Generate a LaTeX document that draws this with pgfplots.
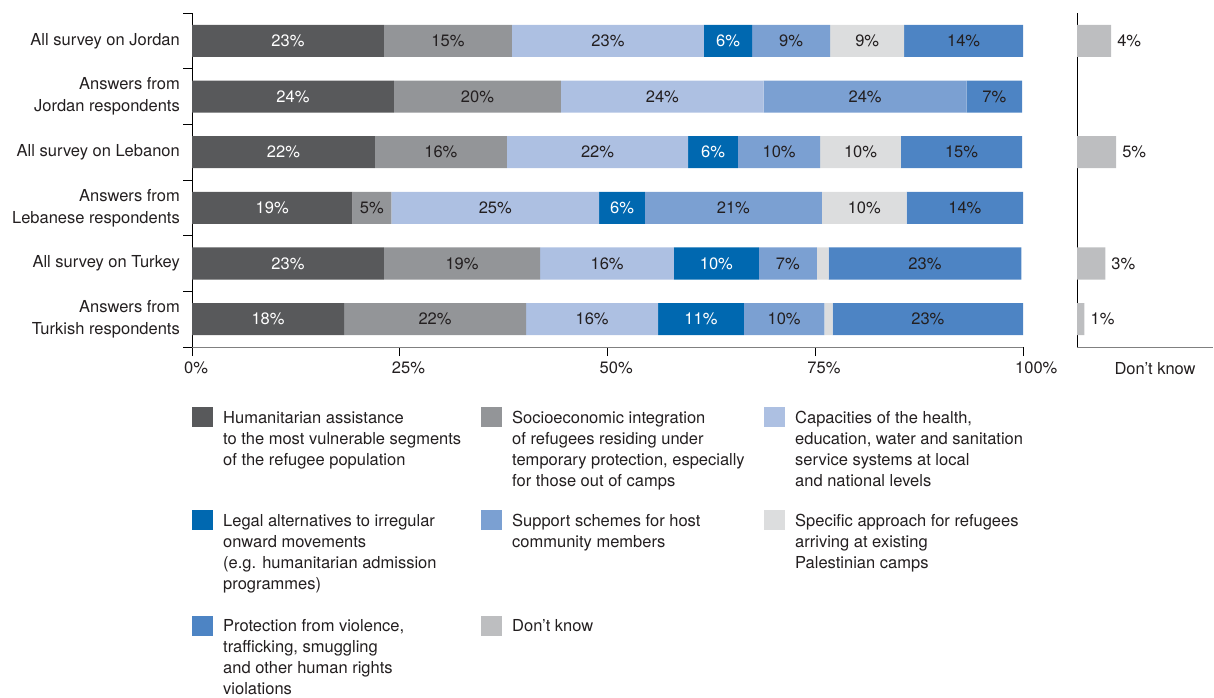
\documentclass[border=0pt]{standalone}
\usepackage{pgfplots}
\pgfplotsset{compat=1.18}
\usepackage{fontspec}
\setmainfont{TeX Gyre Heros}
\definecolor{c1}{HTML}{58595B}
\definecolor{c2}{HTML}{939598}
\definecolor{c3}{HTML}{ADC0E2}
\definecolor{c4}{HTML}{0068B0}
\definecolor{c5}{HTML}{7BA0D2}
\definecolor{c6}{HTML}{DCDDDE}
\definecolor{c7}{HTML}{4D84C4}
\definecolor{c8}{HTML}{BDBEC0}
\definecolor{txt}{HTML}{231F20}
\begin{document}
\begin{tikzpicture}[font=\fontsize{16.5}{21}\selectfont, text=txt]
\useasboundingbox (0,0) rectangle (1214pt,-697pt);
\begin{axis}[
  at={(192pt,-13pt)}, anchor=north west,
  scale only axis, width=831pt, height=334pt,
  xbar stacked, bar width=0.575,
  xmin=0, xmax=100, ymin=-0.5, ymax=5.5,
  axis x line*=bottom, axis y line*=left,
  x axis line style={draw=gray, line width=1pt, -},
  y axis line style={draw=black, line width=1pt, -},
  ytick={-0.5,0.5,...,5.5},
  y tick label as interval,
  yticklabels={{Answers from\\Turkish respondents},{All survey on Turkey},{Answers from\\Lebanese respondents},{All survey on Lebanon},{Answers from\\Jordan respondents},{All survey on Jordan}},
  yticklabel style={align=right, font=\fontsize{16.5}{22}\selectfont, inner sep=0pt, xshift=-3pt},
  xtick={0,25,50,75,100},
  xticklabels={0\%,25\%,50\%,75\%,100\%},
  xticklabel style={anchor=north west, xshift=-8pt, inner sep=0pt, yshift=-6pt},
  tick align=outside, major tick length=9pt,
  tick style={black, line width=0.8pt},
  point meta=explicit symbolic,
  nodes near coords,
  every node near coord/.append style={anchor=center, inner sep=0pt, font=\fontsize{16.5}{21}\selectfont, text=txt},
  clip=false,
]
\addplot[fill=c1, draw=none, every node near coord/.append style={text=white}] coordinates {(18.3,0) [18\%] (23.1,1) [23\%] (19.3,2) [19\%] (22.0,3) [22\%] (24.3,4) [24\%] (23.1,5) [23\%]};
\addplot[fill=c2, draw=none] coordinates {(21.9,0) [22\%] (18.8,1) [19\%] (4.7,2) [5\%] (15.9,3) [16\%] (20.1,4) [20\%] (15.4,5) [15\%]};
\addplot[fill=c3, draw=none] coordinates {(15.9,0) [16\%] (16.1,1) [16\%] (25.0,2) [25\%] (21.8,3) [22\%] (24.4,4) [24\%] (23.1,5) [23\%]};
\addplot[fill=c4, draw=none, every node near coord/.append style={text=white}] coordinates {(10.3,0) [11\%] (10.2,1) [10\%] (5.5,2) [6\%] (6.0,3) [6\%] (0,4) [{}] (5.8,5) [6\%]};
\addplot[fill=c5, draw=none] coordinates {(9.7,0) [10\%] (7.0,1) [7\%] (21.3,2) [21\%] (9.9,3) [10\%] (24.4,4) [24\%] (9.4,5) [9\%]};
\addplot[fill=c6, draw=none] coordinates {(1.0,0) [{}] (1.4,1) [{}] (10.2,2) [10\%] (9.7,3) [10\%] (0,4) [{}] (8.9,5) [9\%]};
\addplot[fill=c7, draw=none] coordinates {(22.9,0) [23\%] (23.2,1) [23\%] (14.0,2) [14\%] (14.6,3) [15\%] (6.7,4) [7\%] (14.3,5) [14\%]};
\end{axis}
\begin{axis}[
  at={(1077pt,-13pt)}, anchor=north west,
  scale only axis, width=136pt, height=334pt,
  xbar, bar width=0.575,
  xmin=0, xmax=16.37, ymin=-0.5, ymax=5.5,
  axis x line*=bottom, axis y line*=left,
  x axis line style={draw=gray, line width=1pt, -},
  y axis line style={draw=black, line width=1pt, -},
  xtick=\empty, ytick=\empty,
  xlabel={Don’t know},
  xlabel style={at={(axis description cs:0.574,0)}, anchor=north, inner sep=0pt, yshift=-15pt},
  point meta=explicit symbolic,
  nodes near coords,
  every node near coord/.append style={anchor=west, inner sep=0pt, xshift=6pt, font=\fontsize{16.5}{21}\selectfont, text=txt},
  clip=false,
]
\addplot[fill=c8, draw=none] coordinates {(0.9,0) [1\%] (3.4,1) [3\%] (4.7,3) [5\%] (4.1,5) [4\%]};
\end{axis}
% legend (base anchor = baseline of last line)
\begin{scope}[every node/.style={anchor=base west, align=left, inner sep=0pt, font=\fontsize{16.5}{21}\selectfont, text=txt}]
\fill[c1] (192pt,-407pt) rectangle ++(21pt,-20pt);
\node at (223pt,-465.5pt) {Humanitarian assistance\\to the most vulnerable segments\\of the refugee population};
\fill[c2] (481pt,-407pt) rectangle ++(21pt,-20pt);
\node at (512pt,-486.5pt) {Socioeconomic integration\\of refugees residing under\\temporary protection, especially\\for those out of camps};
\fill[c3] (764pt,-407pt) rectangle ++(21pt,-20pt);
\node at (795pt,-486.5pt) {Capacities of the health,\\education, water and sanitation\\service systems at local\\and national levels};
\fill[c4] (192pt,-510pt) rectangle ++(21pt,-20pt);
\node at (223pt,-589.5pt) {Legal alternatives to irregular\\onward movements\\(e.g. humanitarian admission\\programmes)};
\fill[c5] (481pt,-510pt) rectangle ++(21pt,-20pt);
\node at (512pt,-547.5pt) {Support schemes for host\\community members};
\fill[c6] (764pt,-510pt) rectangle ++(21pt,-20pt);
\node at (795pt,-568.5pt) {Specific approach for refugees\\arriving at existing\\Palestinian camps};
\fill[c7] (192pt,-616pt) rectangle ++(21pt,-20pt);
\node at (223pt,-694.5pt) {Protection from violence,\\trafficking, smuggling\\and other human rights\\violations};
\fill[c8] (481pt,-616pt) rectangle ++(21pt,-20pt);
\node at (512pt,-631.5pt) {Don’t know};
\end{scope}
\end{tikzpicture}
\end{document}
